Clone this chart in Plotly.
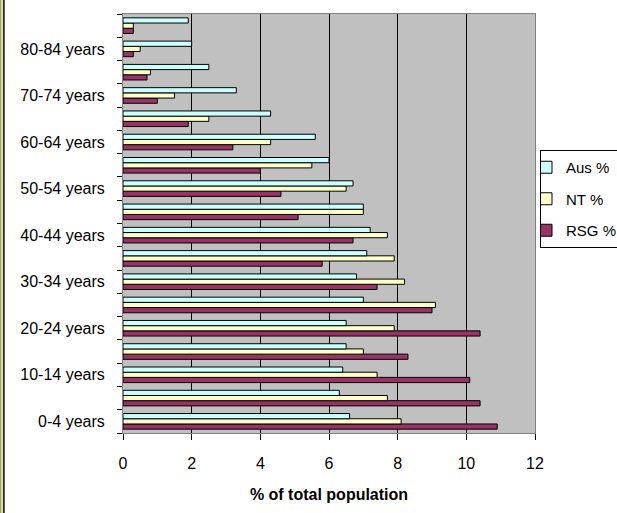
import plotly.graph_objects as go

categories = ["0-4 years", "5-9 years", "10-14 years", "15-19 years", "20-24 years",
              "25-29 years", "30-34 years", "35-39 years", "40-44 years", "45-49 years",
              "50-54 years", "55-59 years", "60-64 years", "65-69 years", "70-74 years",
              "75-79 years", "80-84 years", "85+ years"]
aus = [6.6, 6.3, 6.4, 6.5, 6.5, 7.0, 6.8, 7.1, 7.2, 7.0, 6.7, 6.0, 5.6, 4.3, 3.3, 2.5, 2.0, 1.9]
nt = [8.1, 7.7, 7.4, 7.0, 7.9, 9.1, 8.2, 7.9, 7.7, 7.0, 6.5, 5.5, 4.3, 2.5, 1.5, 0.8, 0.5, 0.3]
rsg = [10.9, 10.4, 10.1, 8.3, 10.4, 9.0, 7.4, 5.8, 6.7, 5.1, 4.6, 4.0, 3.2, 1.9, 1.0, 0.7, 0.3, 0.3]
tick_text = [c if i % 2 == 0 else "" for i, c in enumerate(categories)]
x_ticks = [0, 2, 4, 6, 8, 10, 12]

FONT = "Liberation Sans, Arial, sans-serif"

fig = go.Figure()
# Added bottom-to-top within each group; legendrank keeps legend as Aus, NT, RSG
for name, vals, col, rank in [("RSG %", rsg, "#993366", 3), ("NT %", nt, "#FFFFCC", 2),
                              ("Aus %", aus, "#CCFFFF", 1)]:
    fig.add_trace(go.Bar(
        y=categories, x=vals, name=name, orientation="h", legendgroup=name,
        legendrank=rank,
        marker=dict(color=col, line=dict(color="#000000", width=1)),
    ))

PL, PR, PT, PB = 123, 535, 14, 433
W, H = 617, 513
pw, ph = PR - PL, PB - PT

def px_x(x):
    return (x - PL) / pw

def px_y(y):
    return (PB - y) / ph

fig.update_layout(
    width=W, height=H,
    barmode="group", bargap=0.33, bargroupgap=0,
    plot_bgcolor="#C0C0C0", paper_bgcolor="#FFFFFF",
    margin=dict(l=PL, r=W - PR, t=PT, b=H - PB, autoexpand=False),
    font=dict(family=FONT, size=16, color="#000000"),
    legend=dict(
        x=px_x(540), y=px_y(150), xanchor="left", yanchor="top",
        traceorder="grouped", bordercolor="#000000", borderwidth=1,
        bgcolor="#FFFFFF", font=dict(size=15), itemwidth=30,
        indentation=-15, tracegroupgap=9,
    ),
    xaxis=dict(
        range=[0, 12], tickvals=x_ticks, showgrid=True, gridcolor="#000000", gridwidth=1,
        zeroline=False, showline=True, linecolor="#808080", mirror=True,
        ticks="outside", ticklen=6, tickcolor="#000000", ticklabelstandoff=10,
        title=dict(text="<b>% of total population</b>", font=dict(size=16), standoff=17),
        tickfont=dict(size=16),
    ),
    yaxis=dict(
        type="category", categoryorder="array", categoryarray=categories,
        tickvals=categories, ticktext=tick_text, tickson="boundaries",
        ticks="outside", ticklen=5, tickcolor="#000000", ticklabelstandoff=14,
        showgrid=False, showline=True, linecolor="#808080", mirror=True,
        tickfont=dict(size=16),
    ),
    showlegend=True,
    shapes=[
        dict(type="line", xref="paper", yref="paper", x0=px_x(0.7), x1=px_x(0.7),
             y0=px_y(H + 5), y1=px_y(-5), line=dict(color="#A8A840", width=1.5)),
        dict(type="line", xref="paper", yref="paper", x0=px_x(3.8), x1=px_x(3.8),
             y0=px_y(H + 5), y1=px_y(-5), line=dict(color="#303030", width=2)),
    ],
)

fig.write_html("out.html", config={"displayModeBar": False},
               post_script="document.body.style.margin='0';document.body.style.padding='0';")
